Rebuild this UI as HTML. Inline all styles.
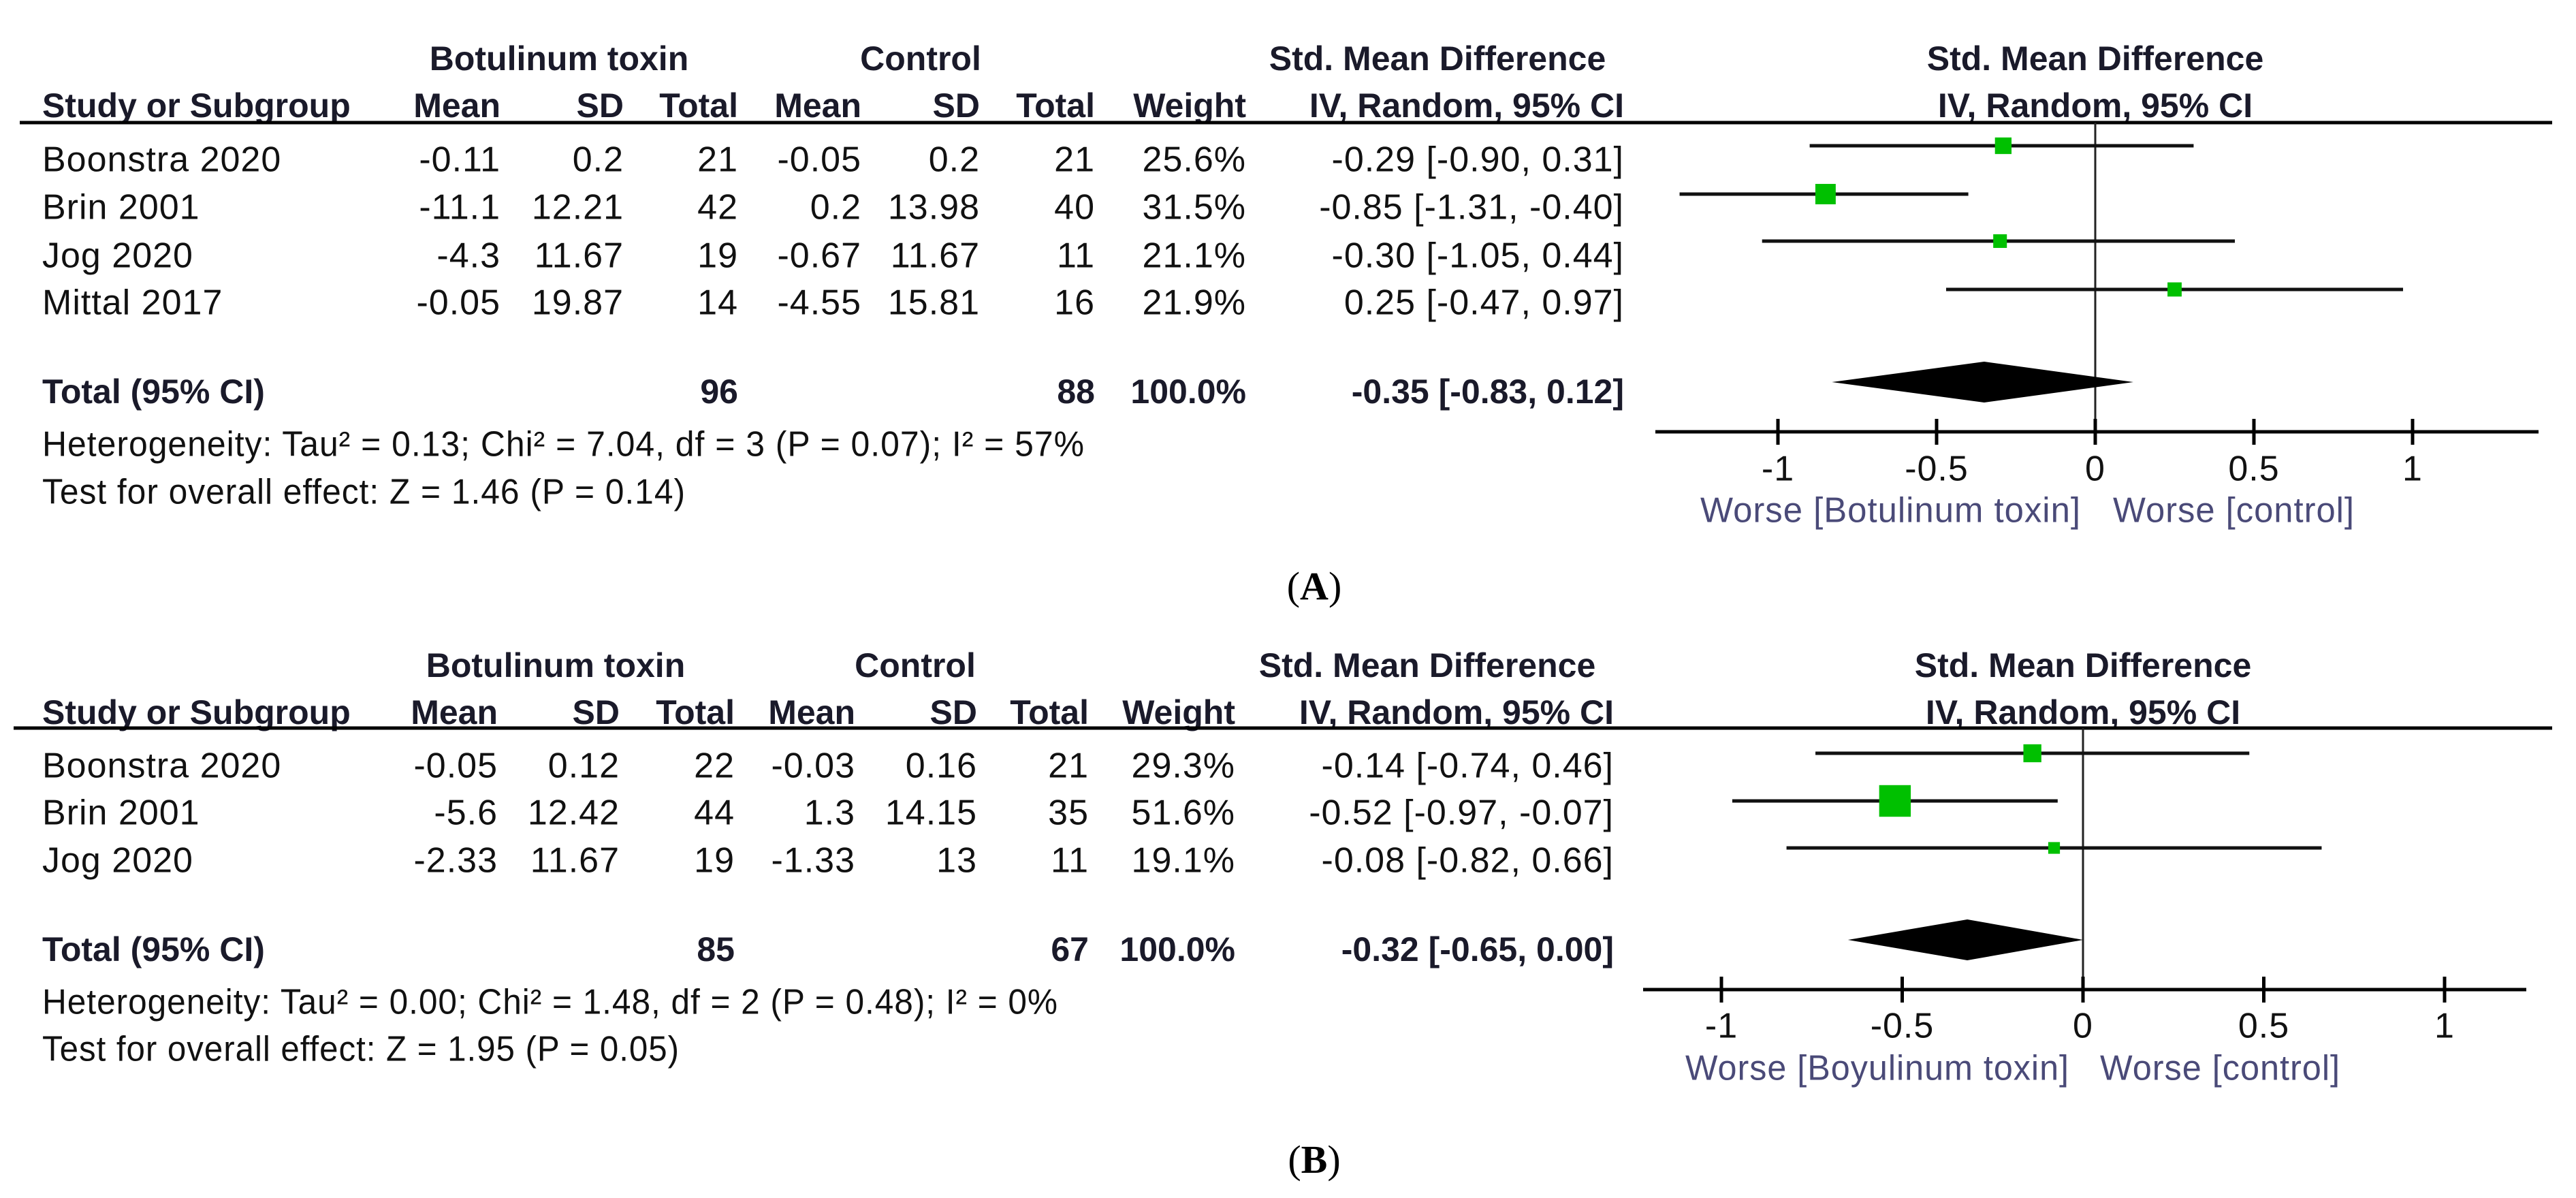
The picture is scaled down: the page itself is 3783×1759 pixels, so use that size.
<!DOCTYPE html>
<html><head><meta charset="utf-8"><style>
html,body{margin:0;padding:0;background:#fff;}
svg{display:block;font-family:"Liberation Sans",Arial,sans-serif;}
.r{font-size:52px;fill:#111;letter-spacing:1px;}
.b{font-size:50px;font-weight:bold;fill:#1a1a2a;}
.w{font-size:52px;fill:#4a4a78;letter-spacing:1px;}
</style></head><body>
<svg id="fig" width="3783" height="1759" viewBox="0 0 3783 1759" xmlns="http://www.w3.org/2000/svg">
<rect width="3783" height="1759" fill="#fff"/>
</svg>
<script>
// Panel A data
const studiesA = ["Boonstra 2020","Brin 2001","Jog 2020","Mittal 2017"];
const bMeanA = ["-0.11","-11.1","-4.3","-0.05"];
const bSdA = ["0.2","12.21","11.67","19.87"];
const bTotA = ["21","42","19","14"];
const cMeanA = ["-0.05","0.2","-0.67","-4.55"];
const cSdA = ["0.2","13.98","11.67","15.81"];
const cTotA = ["21","40","11","16"];
const weightA = [25.6,31.5,21.1,21.9];
const smdA = [-0.29,-0.85,-0.30,0.25];
const loA = [-0.90,-1.31,-1.05,-0.47];
const hiA = [0.31,-0.40,0.44,0.97];
const totalA = {b:"96", c:"88", est:-0.35, lo:-0.83, hi:0.12};
const hetA = "Heterogeneity: Tau² = 0.13; Chi² = 7.04, df = 3 (P = 0.07); I² = 57%";
const testA = "Test for overall effect: Z = 1.46 (P = 0.14)";
// Panel B data
const studiesB = ["Boonstra 2020","Brin 2001","Jog 2020"];
const bMeanB = ["-0.05","-5.6","-2.33"];
const bSdB = ["0.12","12.42","11.67"];
const bTotB = ["22","44","19"];
const cMeanB = ["-0.03","1.3","-1.33"];
const cSdB = ["0.16","14.15","13"];
const cTotB = ["21","35","11"];
const weightB = [29.3,51.6,19.1];
const smdB = [-0.14,-0.52,-0.08];
const loB = [-0.74,-0.97,-0.82];
const hiB = [0.46,-0.07,0.66];
const totalB = {b:"85", c:"67", est:-0.32, lo:-0.65, hi:0.00};
const hetB = "Heterogeneity: Tau² = 0.00; Chi² = 1.48, df = 2 (P = 0.48); I² = 0%";
const testB = "Test for overall effect: Z = 1.95 (P = 0.05)";
const tickVals = [-1,-0.5,0,0.5,1];
const tickLabels = ["-1","-0.5","0","0.5","1"];

const NS="http://www.w3.org/2000/svg";
const svg=document.getElementById('fig');
function el(tag,attrs,parent){const e=document.createElementNS(NS,tag);for(const k in attrs)e.setAttribute(k,attrs[k]);(parent||svg).appendChild(e);return e;}
function txt(s,x,yc,cls,anchor,parent,len){
  const fs=cls==='b'?50:52;
  const t=el('text',{x:x,y:yc+0.36*fs,'class':cls,'text-anchor':anchor||'start'},parent);
  if(len){t.setAttribute('textLength',len);t.setAttribute('lengthAdjust','spacingAndGlyphs');}
  t.textContent=s;return t;
}
function fmt(v){return (v<0?"-":"")+Math.abs(v).toFixed(2);}

function panel(cfg){
  const g=el('g',{});
  
  
  const C=cfg.cols;
  // group headers
  let t=txt("Botulinum toxin",cfg.botX,cfg.h1,'b','middle',g);
  
  t=txt("Control",cfg.ctlX,cfg.h1,'b','middle',g);
  
  t=txt("Std. Mean Difference",cfg.smdX,cfg.h1,'b','middle',g);
  
  t=txt("Std. Mean Difference",cfg.x0,cfg.h1,'b','middle',g);
  
  t=txt("Study or Subgroup",62,cfg.h2,'b','start',g);
  
  const hdr=["Mean","SD","Total","Mean","SD","Total","Weight","IV, Random, 95% CI"];
  hdr.forEach((h,i)=>{const tt=txt(h,C[i]+(i===7?0:0),cfg.h2,'b','end',g);
    
    });
  t=txt("IV, Random, 95% CI",cfg.x0,cfg.h2,'b','middle',g);
  
  let ln=el('line',{x1:cfg.lineX1,x2:3748,y1:cfg.hline,y2:cfg.hline,stroke:'#000','stroke-width':5},g);
  
  const xs=v=>cfg.x0+v*cfg.unit;
  // zero line
  ln=el('line',{x1:xs(0),x2:xs(0),y1:cfg.hline,y2:cfg.axisY,stroke:'#222','stroke-width':3},g);
  
  // rows
  cfg.studies.forEach((s,i)=>{
    const y=cfg.rowY[i];
    const r=el('g',{},g);
    
    
    txt(s,62,y,'r','start',r);
    const vals=[cfg.bMean[i],cfg.bSd[i],cfg.bTot[i],cfg.cMean[i],cfg.cSd[i],cfg.cTot[i],cfg.weight[i].toFixed(1)+"%",
      fmt(cfg.smd[i])+" ["+fmt(cfg.lo[i])+", "+fmt(cfg.hi[i])+"]"];
    vals.forEach((v,k)=>txt(v,C[k],y,'r','end',r));
    const cy=cfg.ciY[i];
    const ci=el('line',{x1:xs(cfg.lo[i]),x2:xs(cfg.hi[i]),y1:cy,y2:cy,stroke:'#111','stroke-width':5},g);
    
    
    const sz=cfg.weight[i]*cfg.sq;
    const sqr=el('rect',{x:xs(cfg.smd[i])-sz/2,y:cy-sz/2,width:sz,height:sz,fill:'#00c000'},g);
    
    
  });
  // total row
  const T=cfg.total;
  const tr=el('g',{},g);
  
  
  txt("Total (95% CI)",62,cfg.totY,'b','start',tr);
  txt(T.b,C[2],cfg.totY,'b','end',tr);
  txt(T.c,C[5],cfg.totY,'b','end',tr);
  txt("100.0%",C[6],cfg.totY,'b','end',tr);
  txt(fmt(T.est)+" ["+fmt(T.lo)+", "+fmt(T.hi)+"]",C[7],cfg.totY,'b','end',tr);
  const dy=cfg.diaY;
  const dia=el('polygon',{points:`${xs(T.lo)},${dy} ${xs(T.est)},${dy-30} ${xs(T.hi)},${dy} ${xs(T.est)},${dy+30}`,fill:'#000'},g);
  
  
  t=txt(cfg.het,62,cfg.hetY,'r','start',g,cfg.hetLen);
  
  t=txt(cfg.test,62,cfg.testY,'r','start',g,cfg.testLen);
  
  // axis
  ln=el('line',{x1:cfg.axX1,x2:cfg.axX2,y1:cfg.axisY,y2:cfg.axisY,stroke:'#000','stroke-width':5},g);
  
  tickVals.forEach((v,i)=>{
    const tk=el('line',{x1:xs(v),x2:xs(v),y1:cfg.axisY-19,y2:cfg.axisY+19,stroke:'#000','stroke-width':5},g);
    
    
    const tl=txt(tickLabels[i],xs(v),cfg.tickY,'r','middle',g);
    
    
  });
  t=txt(cfg.leftLab,cfg.leftEnd,cfg.worseY,'w','end',g,cfg.leftLen);
  
  t=txt("Worse [control]",cfg.rightStart,cfg.worseY,'w','start',g,cfg.rightLen);
  
  // panel label
  const pl=el('text',{x:1930,y:cfg.labY,'text-anchor':'middle','font-family':'"Liberation Serif",serif','font-size':58,fill:'#000'},svg);
  
  
  pl.innerHTML='(<tspan font-weight="bold">'+cfg.lab+'</tspan>)';
}

panel({name:'panel-a',studies:studiesA,bMean:bMeanA,bSd:bSdA,bTot:bTotA,cMean:cMeanA,cSd:cSdA,cTot:cTotA,
  weight:weightA,smd:smdA,lo:loA,hi:hiA,total:totalA,het:hetA,test:testA,
  cols:[735,916,1084,1265,1439,1608,1830,2385],botX:821,ctlX:1352,smdX:2111,
  h1:85,h2:154,hline:180,lineX1:29,rowY:[233,303,374,443],ciY:[214,285,354,425],
  totY:574,diaY:561,hetY:651,testY:721,hetLen:1531,testLen:945,
  x0:3077,unit:466,axisY:634,axX1:2431,axX2:3728,tickY:687,worseY:748,sq:0.95,
  leftLab:"Worse [Botulinum toxin]",leftEnd:3056,leftLen:559,rightStart:3103,rightLen:355,
  lab:'A',labY:880});
panel({name:'panel-b',studies:studiesB,bMean:bMeanB,bSd:bSdB,bTot:bTotB,cMean:cMeanB,cSd:cSdB,cTot:cTotB,
  weight:weightB,smd:smdB,lo:loB,hi:hiB,total:totalB,het:hetB,test:testB,
  cols:[731,910,1079,1256,1435,1599,1814,2370],botX:816,ctlX:1344,smdX:2096,
  h1:976,h2:1045,hline:1069,lineX1:20,rowY:[1123,1192,1262],ciY:[1106,1176,1245],
  totY:1393,diaY:1380,hetY:1470,testY:1539,hetLen:1492,testLen:936,
  x0:3059,unit:531,axisY:1453,axX1:2413,axX2:3710,tickY:1505,worseY:1567,sq:0.9,
  leftLab:"Worse [Boyulinum toxin]",leftEnd:3039,leftLen:564,rightStart:3084,rightLen:353,
  lab:'B',labY:1722});
</script>
</body></html>
